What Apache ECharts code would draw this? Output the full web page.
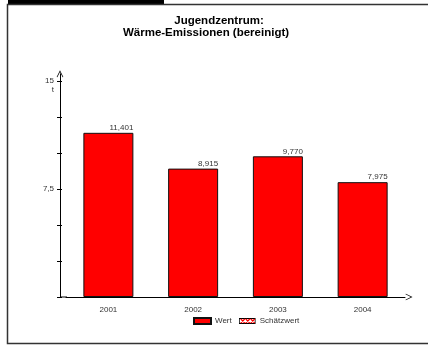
<!DOCTYPE html>
<html>
<head>
<meta charset="utf-8">
<script src="https://cdn.jsdelivr.net/npm/echarts@6/dist/echarts.min.js"></script>
<style>
  html, body { margin: 0; padding: 0; background: #fff; }
  #main { width: 428px; height: 345px; }
</style>
</head>
<body>
<div id="main"></div>
<script>
var years = ['2001', '2002', '2003', '2004'];
var wert = [11.401, 8.915, 9.770, 7.975];
var schaetzwert = [];
var yTicks = [0, 2.5, 5, 7.5, 10, 12.5, 15];
var yLabels = [7.5, 15];
var yUnit = 't';

var font = '"Liberation Sans", Arial, sans-serif';
var dom = document.getElementById('main');
var myChart = echarts.init(dom, null, { renderer: 'canvas' });

// legend icon for the estimate: white box with red crosses
var estIcon = 'image://data:image/svg+xml;utf8,' + encodeURIComponent(
  '<svg xmlns="http://www.w3.org/2000/svg" width="17" height="6">' +
  '<rect x="0.5" y="0.5" width="16" height="5" fill="#fff" stroke="#000"/>' +
  '<path d="M2 1L6 5M6 1L2 5M7 1L11 5M11 1L7 5M12 1L16 5M16 1L12 5" stroke="#f00" stroke-width="1.2"/>' +
  '</svg>');

// open chevron arrow for the axis ends
var arrowUp = 'path://M0,10 L5,0 L10,10 L9,10.5 L5,2.5 L1,10.5 Z';

function fmt(v, d) {
  return v.toFixed(d).replace('.', ',');
}

var option = {
  animation: false,
  textStyle: { fontFamily: font },
  grid: { left: 66, right: 23, top: 73.8, bottom: 48, containLabel: false },
  graphic: [
    { type: 'rect', shape: { x: 8, y: 0, width: 156, height: 4 }, style: { fill: '#000' } },
    { type: 'polyline', shape: { points: [[430, 4.5], [7.5, 4.5], [7.5, 343.5], [430, 343.5]] },
      style: { stroke: '#333', lineWidth: 1.5, fill: null } },
    { type: 'line', shape: { x1: 60, y1: 297, x2: 67, y2: 297 }, style: { stroke: '#000', lineWidth: 1 } },
    { type: 'text', x: 219, y: 21, style: { text: 'Jugendzentrum:', font: 'bold 11.5px ' + font,
      fill: '#000', align: 'center', verticalAlign: 'middle' } },
    { type: 'text', x: 206, y: 33, style: { text: 'Wärme-Emissionen (bereinigt)', font: 'bold 11.5px ' + font,
      fill: '#000', align: 'center', verticalAlign: 'middle' } }
  ],
  legend: {
    bottom: 15,
    left: 188,
    itemWidth: 17,
    itemHeight: 6,
    itemGap: 7,
    textStyle: { fontSize: 8, color: '#333', padding: [0, 0, 0, -1] },
    data: [
      { name: 'Wert', icon: 'rect' },
      { name: 'Schätzwert', icon: estIcon }
    ]
  },
  xAxis: {
    type: 'category',
    data: years,
    axisLine: { lineStyle: { color: '#000', width: 1 }, symbol: ['none', arrowUp], symbolSize: [8, 7], symbolOffset: [0, 4] },
    axisTick: { alignWithLabel: true, length: 3, lineStyle: { color: '#555' } },
    axisLabel: { fontSize: 8, color: '#333', margin: 9 }
  },
  yAxis: [
    {
      type: 'value',
      min: 0,
      max: 15.5,
      offset: 6,
      axisLine: { show: true, lineStyle: { color: '#000', width: 1 }, symbol: ['none', arrowUp], symbolSize: [8, 7] },
      axisTick: { show: true, length: 3, customValues: yTicks, lineStyle: { color: '#000' } },
      axisLabel: {
        fontSize: 8, color: '#333', margin: 6, customValues: yLabels,
        lineHeight: 9,
        formatter: function (v) {
          if (v === 15) return ' \n15\n' + yUnit;
          return v % 1 === 0 ? String(v) : fmt(v, 1);
        }
      },
      splitLine: { show: false }
    },
    {
      // second copy only for the tick parts inside the plot
      type: 'value',
      min: 0,
      max: 15.5,
      offset: 6,
      position: 'left',
      axisLine: { show: false },
      axisTick: { show: true, inside: true, length: 2, customValues: yTicks, lineStyle: { color: '#000' } },
      axisLabel: { show: false },
      splitLine: { show: false }
    }
  ],
  series: [
    {
      name: 'Wert',
      type: 'bar',
      stack: 'a',
      barWidth: 50,
      data: wert,
      itemStyle: { color: '#ff0000', borderColor: '#111', borderWidth: 1 },
      label: {
        show: true,
        position: ['100%', 0],
        align: 'right',
        verticalAlign: 'bottom',
        offset: [0, -1],
        fontSize: 8,
        color: '#333',
        formatter: function (p) { return fmt(p.value, 3); }
      }
    },
    {
      name: 'Schätzwert',
      type: 'bar',
      stack: 'a',
      barWidth: 50,
      data: schaetzwert,
      itemStyle: { color: '#fff', borderColor: '#000', borderWidth: 1 }
    }
  ]
};

myChart.setOption(option);
</script>
</body>
</html>
